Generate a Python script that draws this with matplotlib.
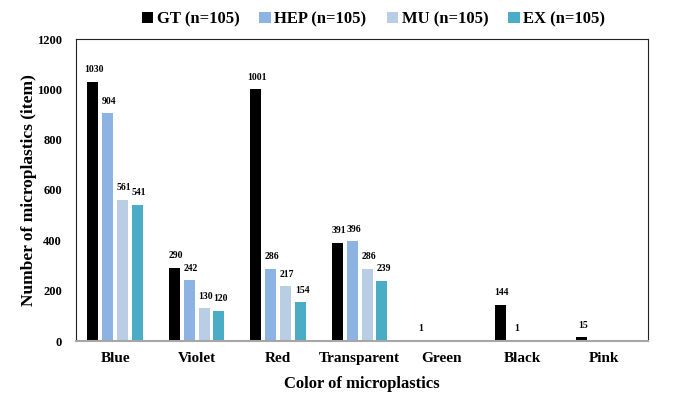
import matplotlib.pyplot as plt
import numpy as np

plt.rcParams['font.family'] = 'Liberation Serif'
plt.rcParams['font.weight'] = 'bold'

categories = ['Blue', 'Violet', 'Red', 'Transparent', 'Green', 'Black', 'Pink']
series = ['GT (n=105)', 'HEP (n=105)', 'MU (n=105)', 'EX (n=105)']
gt = [1030, 290, 1001, 391, 1, 144, 15]
hep = [904, 242, 286, 396, 0, 1, 0]
mu = [561, 130, 217, 286, 0, 0, 0]
ex = [541, 120, 154, 239, 0, 0, 0]
colors = ['#000000', '#8DB3E2', '#B9CDE5', '#4BACC6']

fig = plt.figure(figsize=(6.92, 3.97), dpi=100)
ax = fig.add_axes([76/692, 1 - 341/397, 572/692, 302/397])

x = np.arange(len(categories))
step = 0.183
width = 0.135
for i, (vals, name, c) in enumerate(zip([gt, hep, mu, ex], series, colors)):
    pos = x + (i - 1.5) * step
    ax.bar(pos, vals, width, color=c, label=name)
    for p, v in zip(pos, vals):
        if v > 0:
            ax.text(p + 0.02, v + 30, str(v), ha='center', va='bottom',
                    fontsize=7, fontweight='bold')

ax.set_xlim(-0.48, 6.54)
ax.set_ylim(0, 1200)
ax.set_yticks(range(0, 1201, 200))
ax.set_xticks(x)
ax.set_xticklabels(categories, fontsize=11, fontweight='bold')
ax.tick_params(axis='y', length=0, labelsize=9, pad=10)
ax.tick_params(axis='x', length=0, pad=8)
for lab in ax.get_yticklabels():
    lab.set_fontweight('bold')

for s in ['top', 'right', 'left']:
    ax.spines[s].set_color('#222222')
    ax.spines[s].set_linewidth(0.8)
ax.spines['bottom'].set_color('#A6A6A6')
ax.spines['bottom'].set_linewidth(1.5)

ax.set_ylabel('Number of microplastics (item)', fontsize=12.5, fontweight='bold',
              labelpad=0)
ax.set_xlabel('Color of microplastics', fontsize=12, fontweight='bold', labelpad=8)

ax.legend(loc='lower center', bbox_to_anchor=(0.52, 1.0), ncol=4, frameon=False,
          prop={'size': 12, 'weight': 'bold'}, handlelength=0.7, handleheight=0.7,
          handletextpad=0.2, columnspacing=1.2, borderaxespad=0.3)

fig.savefig('out.png', dpi=100)
